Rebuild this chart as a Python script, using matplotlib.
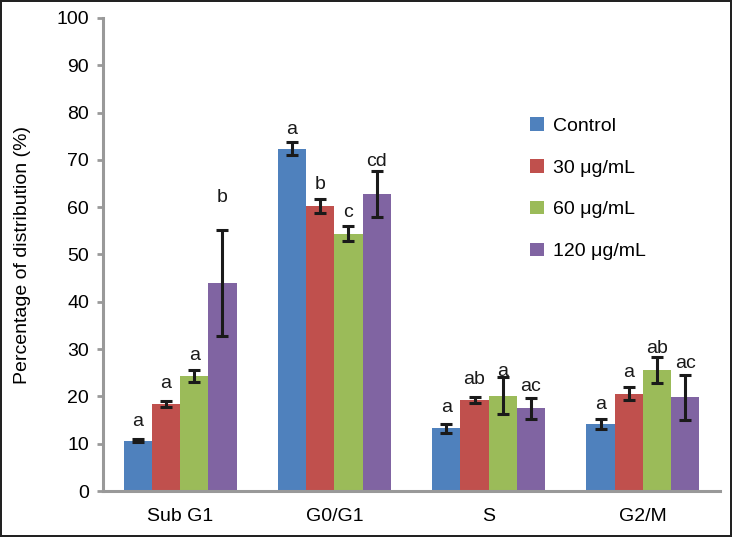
import matplotlib.pyplot as plt
import numpy as np

plt.rcParams['font.family'] = ['Liberation Sans', 'DejaVu Sans']

# Cell cycle distribution
phases = ['Sub G1', 'G0/G1', 'S', 'G2/M']
groups = ['Control', '30 μg/mL', '60 μg/mL', '120 μg/mL']
colors = ['#4F81BD', '#C0504D', '#9BBB59', '#8064A2']

means = [
    [10.6, 72.4, 13.3, 14.2],   # Control
    [18.4, 60.3, 19.2, 20.6],   # 30
    [24.3, 54.4, 20.1, 25.6],   # 60
    [44.0, 62.8, 17.5, 19.8],   # 120
]
errors = [
    [0.3, 1.3, 0.95, 1.05],
    [0.6, 1.5, 0.6, 1.4],
    [1.3, 1.6, 3.9, 2.8],
    [11.2, 4.8, 2.2, 4.7],
]
letters = [
    ['a', 'a', 'a', 'a'],
    ['a', 'b', 'ab', 'a'],
    ['a', 'c', 'a', 'ab'],
    ['b', 'cd', 'ac', 'ac'],
]
letter_y = [
    [14.6, 76.5, 17.6, 18.3],
    [22.8, 64.7, 23.6, 25.0],
    [28.7, 58.8, 25.2, 30.2],
    [62.0, 69.6, 22.0, 27.0],
]

fs = 14

fig = plt.figure(figsize=(7.32, 5.37), dpi=100)
fig.patch.set_edgecolor('#222222')
fig.patch.set_linewidth(1.5)
ax = fig.add_axes([103 / 732, 1 - 491 / 537, 617 / 732, 473 / 537])

x = np.arange(len(phases))
width = 0.183
for i in range(len(groups)):
    pos = x + (i - 1.5) * width
    ax.bar(pos, means[i], width, color=colors[i], label=groups[i])
    ax.errorbar(pos, means[i], yerr=errors[i], fmt='none', ecolor='#1a1a1a',
                elinewidth=2.2, capsize=4.5, capthick=2.2)
    for j in range(len(phases)):
        ax.text(pos[j], letter_y[i][j], letters[i][j], ha='center', va='center',
                fontsize=fs, color='#1a1a1a')

ax.set_xlim(-0.5, 3.5)
ax.set_ylim(0, 100)
ax.set_yticks(np.arange(0, 101, 10))
ax.set_xticks(x)
ax.set_xticklabels(phases)
ax.tick_params(axis='y', direction='out', length=4, width=2, color='#999999',
               labelsize=fs, pad=6)
ax.tick_params(axis='x', length=0, labelsize=fs, pad=12)
ax.set_ylabel('Percentage of distribution (%)', fontsize=fs, labelpad=18)

for side in ['top', 'right']:
    ax.spines[side].set_visible(False)
for side in ['left', 'bottom']:
    ax.spines[side].set_color('#999999')
    ax.spines[side].set_linewidth(2.2)

ax.legend(loc='upper left', bbox_to_anchor=(530 / 732, 1 - 117 / 537),
          bbox_transform=fig.transFigure, frameon=False, fontsize=fs,
          handlelength=0.7, handleheight=0.7, handletextpad=0.5,
          labelspacing=1.25, borderpad=0, borderaxespad=0)

fig.savefig('out.png', dpi=100)
